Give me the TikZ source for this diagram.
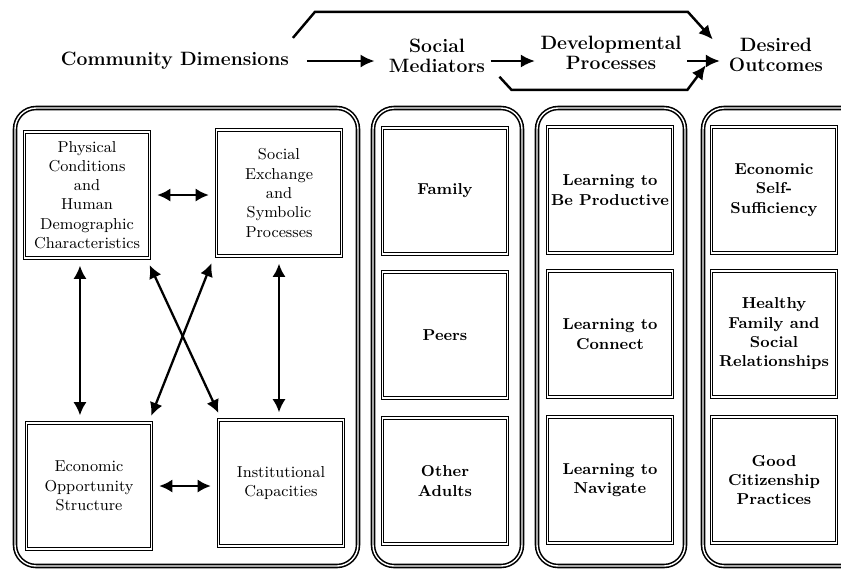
\documentclass[tikz,border=0pt]{standalone}
\usetikzlibrary{arrows.meta}

\tikzset{
  panel/.style={draw, double, line width=0.9pt, double distance=0.8pt, rounded corners=12pt},
  box/.style={draw, double, line width=0.75pt, double distance=0.7pt,
    minimum width=2.5cm, minimum height=2.52cm, inner sep=1pt,
    align=center, font=\small\bfseries},
  dim/.style={box, font=\small},
  head/.style={align=center, inner sep=2pt, font=\fontsize{11}{11.5}\selectfont\bfseries},
  link/.style={<->, >={Latex[length=7.5pt,width=7.5pt]}, line width=1.3pt,
    shorten <=4pt, shorten >=4pt},
  flow/.style={->, >={Latex[length=8pt,width=7.5pt]}, line width=1.4pt}
}

\begin{document}
\begin{tikzpicture}[x=0.02cm, y=-0.02cm]
  \useasboundingbox (0,0) rectangle (841,569);
  \clip (0,0) rectangle (841,569);

  % heading row
  \node[head] (cd) at (175,61) {Community Dimensions};
  \node[head] (sm) at (437,56) {Social\\Mediators};
  \node[head] (dp) at (611,53) {Developmental\\Processes};
  \node[head] (do) at (776,55) {Desired\\Outcomes};

  \draw[flow, shorten <=8pt, shorten >=6pt] (cd.east) -- (cd.east -| sm.west);
  \draw[flow, shorten <=1pt, shorten >=1pt] (sm.east |- cd.east) -- (dp.west |- cd.east);
  \draw[flow, shorten <=1pt, shorten >=3pt] (dp.east |- cd.east) -- (do.west |- cd.east);
  \draw[flow] ([yshift=6pt]cd.north east) -- ++(22,-26) -- ++(373,0) -- ([xshift=-7pt,yshift=-3pt]do.north west);
  \draw[flow] ([xshift=6pt]sm.south east) -- ++(12,13) -- ++(176,0) -- ([xshift=-11pt,yshift=6pt]do.south west);

  % columns
  \draw[panel] (15,108) rectangle (358,566);
  \draw[panel] (373,108) rectangle (522,566);
  \draw[panel] (537,108) rectangle (685,566);
  \draw[panel] (703,108) rectangle (870,566);

  % community dimensions
  \node[dim] (pc) at (87,195) {Physical\\Conditions\\and\\Human\\Demographic\\Characteristics};
  \node[dim] (se) at (279,193) {Social\\Exchange\\and\\Symbolic\\Processes};
  \node[dim] (eo) at (89,486) {Economic\\Opportunity\\Structure};
  \node[dim] (ic) at (281,483) {Institutional\\Capacities};

  \draw[link] (pc.east) -- (pc.east -| se.west);
  \draw[link] (eo.east) -- (eo.east -| ic.west);
  \draw[link] ([xshift=-4pt]pc.south) -- ([xshift=-4pt]pc.south |- eo.north);
  \draw[link] (se.south) -- (se.south |- ic.north);
  \draw[link] ([xshift=-2pt]pc.south east) -- ([xshift=2pt]ic.north west);
  \draw[link] ([xshift=-1pt]se.south west) -- ([xshift=-2pt]eo.north east);

  % social mediators
  \node[box] (fam) at (445,191) {Family};
  \node[box] (peers) at (445,335) {Peers};
  \node[box] (adults) at (445,481) {Other\\Adults};

  % developmental processes
  \node[box] (lp) at (610,190) {Learning to\\Be Productive};
  \node[box] (lc) at (610,334) {Learning to\\Connect};
  \node[box] (ln) at (610,480) {Learning to\\Navigate};

  % desired outcomes
  \node[box] (es) at (774,190) {Economic\\Self-\\Sufficiency};
  \node[box] (hf) at (774,334) {Healthy\\Family and\\Social\\Relationships};
  \node[box] (gc) at (774,480) {Good\\Citizenship\\Practices};
\end{tikzpicture}
\end{document}
